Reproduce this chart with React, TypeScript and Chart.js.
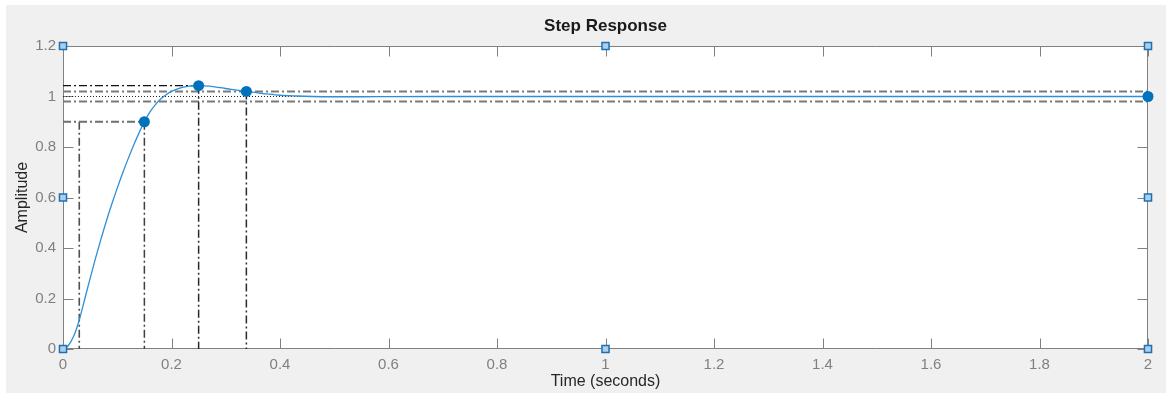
import React, { useEffect, useRef } from "react";
import { Chart, registerables } from "chart.js";

Chart.register(...registerables);

// ---- data ----
const timeValues = [0, 0.01, 0.02, 0.03, 0.04, 0.05, 0.06, 0.07, 0.08, 0.09, 0.1, 0.11, 0.12, 0.13, 0.14, 0.15, 0.16, 0.17, 0.18, 0.19, 0.2, 0.21, 0.22, 0.23, 0.24, 0.25, 0.27, 0.29, 0.31, 0.338, 0.36, 0.38, 0.4, 0.43, 0.46, 0.5, 0.55, 0.6, 0.7, 0.8, 1.0, 1.5, 2.0];
const amplitudeValues = [0, 0.014, 0.052, 0.115, 0.197, 0.28, 0.36, 0.435, 0.507, 0.574, 0.637, 0.697, 0.753, 0.806, 0.855, 0.9, 0.938, 0.967, 0.99, 1.007, 1.02, 1.029, 1.036, 1.04, 1.0425, 1.043, 1.041, 1.035, 1.028, 1.02, 1.014, 1.009, 1.005, 1.002, 1.0, 0.999, 0.999, 0.9995, 1.0, 1.0, 1.0, 1.0, 1.0];

const xTicks = [0, 0.2, 0.4, 0.6, 0.8, 1, 1.2, 1.4, 1.6, 1.8, 2];
const yTicks = [0, 0.2, 0.4, 0.6, 0.8, 1, 1.2];

const riseStart = 0.03;
const riseEnd = 0.15;
const riseLevel = 0.9;
const peakTime = 0.25;
const peakValue = 1.043;
const settleTime = 0.338;
const settleValue = 1.02;
const settleBand = [0.98, 1.02];
const finalValue = 1.0;
const tEnd = 2;

const handleX = [0, 1, 2, 0, 2, 0, 1, 2];
const handleY = [1.2, 1.2, 1.2, 0.6, 0.6, 0, 0, 0];

const FONT = "'Liberation Sans', Arial, Helvetica, sans-serif";
const DASHDOT = [8, 3, 2, 3];

export default function App() {
  const ref = useRef<HTMLCanvasElement | null>(null);

  useEffect(() => {
    document.body.style.margin = "0";
    const canvas = ref.current!;
    const seg = (x1: number, y1: number, x2: number, y2: number) => [
      { x: x1, y: y1 },
      { x: x2, y: y2 },
    ];
    const refLine = (data: any[], color: string, dash: number[], width = 1, order = 5) => ({
      type: "line" as const,
      data,
      borderColor: color,
      borderWidth: width,
      borderDash: dash,
      pointRadius: 0,
      fill: false,
      tension: 0,
      order,
    });

    const bgPlugin = {
      id: "bg",
      beforeDraw(chart: any) {
        const { ctx, chartArea: a } = chart;
        ctx.save();
        ctx.fillStyle = "#ffffff";
        ctx.fillRect(0, 0, chart.width, chart.height);
        ctx.fillStyle = "#f0f0f0";
        ctx.fillRect(6, 5, chart.width - 6, 388);
        ctx.fillStyle = "#ffffff";
        ctx.fillRect(a.left, a.top, a.right - a.left, a.bottom - a.top);
        ctx.restore();
      },
      beforeDatasetsDraw(chart: any) {
        const { ctx, chartArea: a, scales } = chart;
        const xs = scales.x;
        const ys = scales.y;
        ctx.save();
        ctx.strokeStyle = "#808080";
        ctx.lineWidth = 1;
        ctx.beginPath();
        const L = Math.round(a.left) + 0.5;
        const R = Math.round(a.right) - 0.5;
        const T = Math.round(a.top) + 0.5;
        const B = Math.round(a.bottom) - 0.5;
        ctx.rect(L, T, R - L, B - T);
        const tl = 10;
        xTicks.forEach((v) => {
          const px = Math.round(xs.getPixelForValue(v)) + 0.5;
          ctx.moveTo(px, B);
          ctx.lineTo(px, B - tl);
          ctx.moveTo(px, T);
          ctx.lineTo(px, T + tl);
        });
        yTicks.forEach((v) => {
          const py = Math.round(ys.getPixelForValue(v)) + 0.5;
          ctx.moveTo(L, py);
          ctx.lineTo(L + tl, py);
          ctx.moveTo(R, py);
          ctx.lineTo(R - tl, py);
        });
        ctx.stroke();
        ctx.restore();
      },
      afterDraw(chart: any) {
        const { ctx, chartArea: a } = chart;
        const cx = (a.left + a.right) / 2;
        ctx.save();
        ctx.textAlign = "center";
        ctx.textBaseline = "middle";
        ctx.fillStyle = "#1a1a1a";
        ctx.font = `bold 17px ${FONT}`;
        ctx.fillText("Step Response", cx, 26);
        ctx.fillStyle = "#262626";
        ctx.font = `16px ${FONT}`;
        ctx.fillText("Time (seconds)", cx, 382);
        ctx.translate(22.5, (a.top + a.bottom) / 2);
        ctx.rotate(-Math.PI / 2);
        ctx.fillText("Amplitude", 0, 0);
        ctx.restore();
      },
    };

    const chart = new Chart(canvas, {
      type: "line",
      data: {
        datasets: [
          {
            data: timeValues.map((t, i) => ({ x: t, y: amplitudeValues[i] })),
            borderColor: "#2e8fd8",
            borderWidth: 1.3,
            pointRadius: 0,
            fill: false,
            cubicInterpolationMode: "monotone",
            order: 2,
          } as any,
          refLine(seg(0, riseLevel, riseEnd, riseLevel), "#6e6e6e", DASHDOT, 1.8),
          refLine(seg(riseStart, riseLevel, riseStart, 0), "#505050", DASHDOT, 1.6),
          refLine(seg(riseEnd, riseLevel, riseEnd, 0), "#404040", DASHDOT, 1.5),
          refLine(seg(0, peakValue, peakTime, peakValue), "#111111", DASHDOT, 1.3),
          refLine(seg(peakTime, peakValue, peakTime, 0), "#2a2a2a", DASHDOT, 1.5),
          refLine(seg(settleTime, settleValue, settleTime, 0), "#2a2a2a", DASHDOT, 1.5),
          refLine(seg(0, settleBand[0], tEnd, settleBand[0]), "#7a7a7a", DASHDOT, 1.9),
          refLine(seg(0, settleBand[1], tEnd, settleBand[1]), "#7a7a7a", DASHDOT, 1.9),
          refLine(seg(0, finalValue, tEnd, finalValue), "#222222", [1, 2], 1.2),
          {
            type: "scatter",
            data: [
              { x: riseEnd, y: riseLevel },
              { x: peakTime, y: peakValue },
              { x: settleTime, y: settleValue },
              { x: tEnd, y: finalValue },
            ],
            pointRadius: 5.5,
            pointBackgroundColor: "#0072bd",
            pointBorderColor: "#0072bd",
            pointBorderWidth: 0,
            showLine: false,
            clip: false,
            order: 1,
          } as any,
          {
            type: "scatter",
            data: handleX.map((x, i) => ({ x, y: handleY[i] })),
            pointStyle: "rect",
            pointRadius: 5,
            pointBackgroundColor: "#a9d0ee",
            pointBorderColor: "#1f6fb2",
            pointBorderWidth: 1.5,
            showLine: false,
            clip: false,
            order: 0,
          } as any,
        ],
      },
      options: {
        responsive: false,
        animation: false,
        devicePixelRatio: 1,
        layout: { padding: { top: 46, right: 18, left: 0, bottom: 0 } },
        plugins: {
          legend: { display: false },
          title: { display: false },
          tooltip: { enabled: false },
        },
        scales: {
          x: {
            type: "linear",
            min: 0,
            max: 2,
            afterFit: (s: any) => {
              s.height = 45;
            },
            afterBuildTicks: (s: any) => {
              s.ticks = xTicks.map((v) => ({ value: v }));
            },
            ticks: {
              padding: 7,
              color: "#808080",
              font: { family: FONT, size: 15 },
              maxRotation: 0,
              callback: (v: any) => String(Math.round(Number(v) * 10) / 10),
            },
            grid: { display: false, drawTicks: false },
            border: { display: false },
          },
          y: {
            type: "linear",
            min: 0,
            max: 1.2,
            afterFit: (s: any) => {
              s.width = 63;
            },
            afterBuildTicks: (s: any) => {
              s.ticks = yTicks.map((v) => ({ value: v }));
            },
            ticks: {
              padding: 7,
              color: "#808080",
              font: { family: FONT, size: 15 },
              callback: (v: any) => String(Math.round(Number(v) * 10) / 10),
            },
            grid: { display: false, drawTicks: false },
            border: { display: false },
          },
        },
      },
      plugins: [bgPlugin],
    } as any);

    return () => chart.destroy();
  }, []);

  return (
    <div style={{ position: "absolute", left: 0, top: 0, width: 1166, height: 394 }}>
      <canvas ref={ref} width={1166} height={394} style={{ display: "block", width: 1166, height: 394 }} />
    </div>
  );
}
